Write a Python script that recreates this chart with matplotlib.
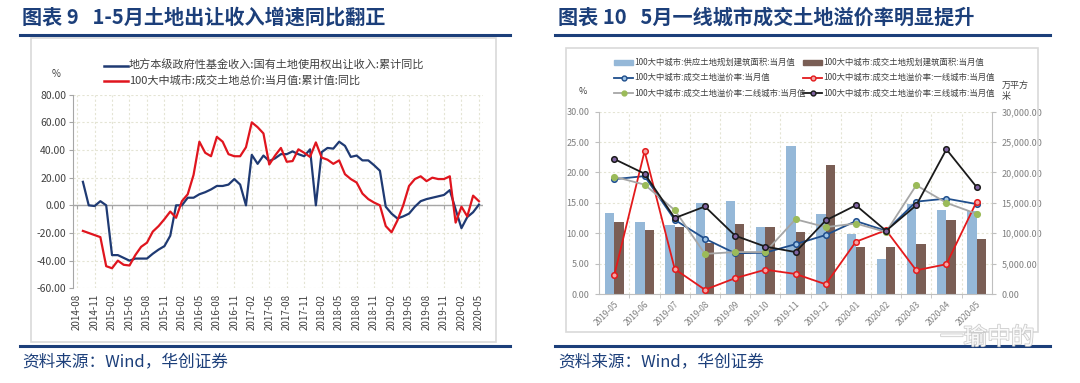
import numpy as np
import pandas as pd
import matplotlib
matplotlib.use("Agg")
import matplotlib.pyplot as plt
from matplotlib.patches import Rectangle
from matplotlib.lines import Line2D
import matplotlib.patheffects as pe

plt.rcParams['font.family'] = ['Noto Sans CJK SC', 'DejaVu Sans']
plt.rcParams['axes.unicode_minus'] = False

# ---------------- data: chart 9 (monthly, 2014-09 .. 2020-05)
land_fund_yoy = [17, 0, -0.5, 3, 0, -36, -36, -38, -40, -38.5, -38.5, -38.5, -35, -32, -29.5, -22,
                 0, 0, 5.5, 5.5, 8, 9.5, 11.5, 14, 14, 15, 19, 15, 0, 36.5, 30, 36, 32, 34, 37, 37,
                 39, 37, 35.5, 40.5, 0, 38.5, 41.5, 41, 46, 43, 35, 36, 32.5, 32.5, 29, 25, -1, -6,
                 -9.5, -8, -6, -1, 3, 4.5, 5.5, 6.5, 7.5, 11, -3, -16.5, -8.5, -5, 0.5]
city100_price_yoy = [-18.5, -20, -21.5, -23, -44, -45.5, -40, -43, -43.5, -36, -30, -27, -19, -15, -10,
                     -4.5, -9, 3, 8, 22, 46, 38, 35.5, 49.5, 46, 37, 35.5, 35.5, 42, 60, 56.5, 52,
                     29.5, 36, 41.5, 31.5, 32, 40.5, 38, 35, 45.5, 34.5, 33, 30, 32.5, 22.5, 19, 16.5,
                     8.5, 4.5, 2, 0, -15, -19.5, -11, 0, 14, 19, 21, 17.5, 20, 19, 19, 21, -12.5, -1,
                     -8, 7, 3]
all_months9 = pd.period_range('2014-08', '2020-05', freq='M')
months9 = all_months9[1:]
tick_months9 = all_months9[::3]
tick_labels9 = [p.strftime('%Y-%m') for p in tick_months9]
legend9 = ['地方本级政府性基金收入:国有土地使用权出让收入:累计同比',
           '100大中城市:成交土地总价:当月值:累计值:同比']

# ---------------- data: chart 10 (2019-05 .. 2020-05)
months10 = ['2019-05', '2019-06', '2019-07', '2019-08', '2019-09', '2019-10', '2019-11',
            '2019-12', '2020-01', '2020-02', '2020-03', '2020-04', '2020-05']
supply_area = [13300, 11800, 11400, 15000, 15300, 11100, 24400, 13100, 9800, 5800, 14800, 13800, 13700]
deal_area = [11800, 10600, 11000, 8400, 11600, 11000, 10200, 21300, 7800, 7800, 8300, 12100, 9000]
premium_all = [18.9, 19.4, 12.2, 9.1, 6.7, 6.8, 8.2, 9.7, 12.0, 10.4, 15.2, 15.7, 14.8]
premium_t1 = [3.2, 23.5, 4.1, 0.7, 2.6, 4.0, 3.3, 1.6, 8.6, 10.5, 3.9, 4.9, 15.2]
premium_t2 = [19.3, 18.0, 13.8, 6.6, 6.9, 6.9, 12.3, 11.0, 11.6, 10.2, 17.9, 15.0, 13.2]
premium_t3 = [22.2, 19.8, 12.5, 14.4, 9.6, 7.8, 6.9, 12.1, 14.6, 10.4, 14.6, 23.8, 17.6]
legend10 = ['100大中城市:供应土地规划建筑面积:当月值', '100大中城市:成交土地规划建筑面积:当月值',
            '100大中城市:成交土地溢价率:当月值', '100大中城市:成交土地溢价率:一线城市:当月值',
            '100大中城市:成交土地溢价率:二线城市:当月值', '100大中城市:成交土地溢价率:三线城市:当月值']

W, H = 1080, 383
NAVY = '#1c3f7a'
TXT = '#404040'
GRID = '#e4e4d4'

fig = plt.figure(figsize=(W / 100, H / 100), dpi=100)


def px(x, y, w, h):
    # pixel box (top-left origin) -> figure fraction
    return [x / W, 1 - (y + h) / H, w / W, h / H]


def rule(x0, x1, y):
    fig.add_artist(Line2D([x0 / W, x1 / W], [1 - y / H, 1 - y / H], color=NAVY, lw=2.2))


def frame(x0, y0, x1, y1):
    fig.add_artist(Rectangle((x0 / W, 1 - y1 / H), (x1 - x0) / W, (y1 - y0) / H,
                             transform=fig.transFigure, fill=False, ec='#d9d9d9', lw=1.2))


# ---------------- headers / footers
fig.text(22 / W, 1 - 17 / H, '图表 9   1-5月土地出让收入增速同比翻正', fontsize=14.5,
         fontweight='bold', color=NAVY, va='center')
fig.text(558 / W, 1 - 17 / H, '图表 10   5月一线城市成交土地溢价率明显提升', fontsize=14.5,
         fontweight='bold', color=NAVY, va='center')
rule(20, 510, 34.5)
rule(555, 1050, 34.5)
rule(20, 510, 345.5)
rule(555, 1050, 345.5)
for x in (22, 558):
    fig.text(x / W, 1 - 362 / H, '资料来源：Wind，华创证券', fontsize=12, color=NAVY,
             va='center', style='italic')
frame(31, 38, 496, 342)
frame(566, 48, 1038, 332)

# ---------------- chart 9
ax = fig.add_axes(px(73, 94.7, 410, 193.6))
x9 = [(p - all_months9[0]).n for p in months9]
xt9 = [(p - all_months9[0]).n for p in tick_months9]
ax.plot(x9, land_fund_yoy, color='#1f3a73', lw=1.6)
ax.plot(x9, city100_price_yoy, color='#e0151e', lw=1.6)
ax.set_xlim(-0.7, 69.7)
ax.set_ylim(-60, 80)
ax.set_yticks(np.arange(-60, 81, 20))
ax.set_yticklabels([f'{v:.2f}' for v in np.arange(-60, 81, 20)])
ax.set_xticks(xt9)
ax.set_xticklabels(tick_labels9, rotation=90)
ax.tick_params(axis='x', length=0, labelsize=7, labelcolor=TXT, pad=4)
ax.tick_params(axis='y', length=3, color='#a6a6a6', labelsize=7.5, labelcolor=TXT, pad=2)
for s in ('top', 'right', 'bottom'):
    ax.spines[s].set_visible(False)
ax.spines['left'].set_color('#a6a6a6')
ax.grid(True, color=GRID, lw=0.8, ls=(0, (2, 2)))
ax.set_axisbelow(True)
ax.axhline(0, color='#a6a6a6', lw=1, zorder=1)
ax.vlines(xt9, -2.5, 0, color='#a6a6a6', lw=0.8, zorder=1)

fig.text(52 / W, 1 - 74 / H, '%', fontsize=7, color=TXT, va='center')
for i, (lab, col) in enumerate(zip(legend9, ['#1f3a73', '#e0151e'])):
    yy = 1 - (65.5 + 15 * i) / H
    fig.add_artist(Line2D([104 / W, 128 / W], [yy, yy], color=col, lw=1.8))
    fig.text(129 / W, yy, lab, fontsize=8, color=TXT, va='center')

# ---------------- chart 10
axb = fig.add_axes(px(599.3, 111.7, 392.4, 182.3))
axl = axb.twinx()
x10 = np.arange(len(months10))
bw = 0.31
axb.bar(x10 - bw / 2, supply_area, width=bw, color='#95b8d8', zorder=2)
axb.bar(x10 + bw / 2, deal_area, width=bw, color='#7a5e55', zorder=2)
axb.set_ylim(0, 30000)
axb.set_xlim(-0.5, len(months10) - 0.5)
axb.yaxis.tick_right()
axb.set_yticks(np.arange(0, 30001, 5000))
axb.set_yticklabels([f'{v:,.2f}' for v in np.arange(0, 30001, 5000)])
axb.set_xticks(x10)
axb.set_xticklabels(months10, rotation=45, ha='right', va='top', rotation_mode='anchor')
axb.set_xticks(x10[:-1] + 0.5, minor=True)
axb.tick_params(axis='x', which='major', length=0, labelsize=6, labelcolor='#7f7f7f', pad=4)
axb.tick_params(axis='x', which='minor', length=3, color='#bfbfbf')
axb.tick_params(axis='y', length=3, color='#bfbfbf', labelsize=6.5, labelcolor='#7f7f7f', pad=4)
axb.grid(True, axis='x', which='minor', color=GRID, lw=0.8, ls=(0, (2, 2)))
axb.grid(True, axis='y', color=GRID, lw=0.8, ls=(0, (2, 2)))
axb.set_axisbelow(True)
axb.spines['top'].set_visible(False)
for s in ('left', 'right', 'bottom'):
    axb.spines[s].set_color('#bfbfbf')

axl.yaxis.tick_left()
axl.set_ylim(0, 30)
axl.set_yticks(np.arange(0, 31, 5))
axl.set_yticklabels([f'{v:.2f}' for v in np.arange(0, 31, 5)])
axl.tick_params(axis='y', length=3, color='#bfbfbf', labelsize=6.5, labelcolor='#7f7f7f', pad=4)
for s in axl.spines.values():
    s.set_visible(False)

line_styles = [
    (premium_all, '#1f4e8c', '#9dc3e6', '#1f4e8c'),
    (premium_t1, '#e31a1c', '#f4a6a6', '#e31a1c'),
    (premium_t2, '#a6a6a6', '#9bbb59', '#9bbb59'),
    (premium_t3, '#1a1a1a', '#8064a2', '#1a1a1a'),
]
for vals, lc, mfc, mec in line_styles:
    axl.plot(x10, vals, color=lc, lw=1.3, marker='o', ms=4, mfc=mfc, mec=mec, mew=1.1, zorder=3)

fig.text(579 / W, 1 - 91 / H, '%', fontsize=6.5, color=TXT, va='center')
fig.text(1002 / W, 1 - 91 / H, '万平方\n米', fontsize=6.5, color=TXT, va='center', linespacing=1.3)

handles10 = [('bar', '#95b8d8', None, None), ('bar', '#7a5e55', None, None)] + \
            [('line', lc, mfc, mec) for _, lc, mfc, mec in line_styles]
for i, (lab, h) in enumerate(zip(legend10, handles10)):
    col, row = i % 2, i // 2
    hx = [614, 803][col]
    yy = 1 - (62 + 15.5 * row) / H
    if h[0] == 'bar':
        fig.add_artist(Rectangle((hx / W, yy - 2.5 / H), 19 / W, 5 / H, transform=fig.transFigure,
                                 color=h[1]))
    else:
        fig.add_artist(Line2D([hx / W, (hx + 19) / W], [yy, yy], color=h[1], lw=1.3))
        fig.add_artist(Line2D([(hx + 9.5) / W], [yy], marker='o', ms=3.5, mfc=h[2], mec=h[3], mew=1))
    fig.text((hx + 20) / W, yy, lab, fontsize=6, color=TXT, va='center')

# watermark
fig.text(940 / W, 1 - 338 / H, '一瑜中的', fontsize=17, color='white', va='center', alpha=0.9,
         path_effects=[pe.withStroke(linewidth=1.2, foreground='#c8c8c8')])

fig.savefig('out.png', dpi=100, facecolor='white')
